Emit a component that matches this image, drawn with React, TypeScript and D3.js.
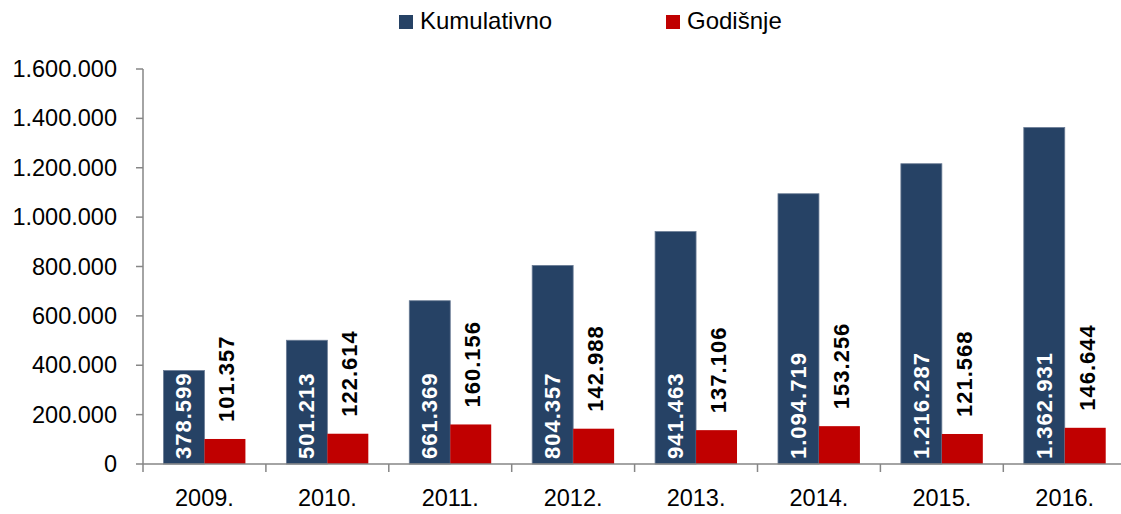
import React from "react";
import * as d3 from "d3";

const width = 1121;
const height = 514;
const margin = { top: 69, left: 143, bottom: 50 };
const step = 122.9;

const years = ["2009.", "2010.", "2011.", "2012.", "2013.", "2014.", "2015.", "2016."];
const kumulativno = [378599, 501213, 661369, 804357, 941463, 1094719, 1216287, 1362931];
const godisnje = [101357, 122614, 160156, 142988, 137106, 153256, 121568, 146644];
const series = ["Kumulativno", "Godišnje"];
const colors = ["#264265", "#C00000"];
const yTicks = [0, 200000, 400000, 600000, 800000, 1000000, 1200000, 1400000, 1600000];

const locale = d3.formatLocale({ decimal: ",", thousands: ".", grouping: [3], currency: ["", ""] });
const fmt = locale.format(",");

const font = "'Liberation Sans', Arial, sans-serif";
const axisColor = "#868686";

export default function App() {
  const y0 = height - margin.bottom; // 464
  const yScale = d3.scaleLinear().domain([0, 1600000]).range([y0, margin.top]);
  const xScale = d3.scaleBand()
    .domain(years)
    .range([margin.left, margin.left + step * years.length])
    .padding(0);
  // bars take 2/3 of each band (gap width 50%)
  const inner = d3.scaleBand()
    .domain(series)
    .range([step / 6, step - step / 6])
    .padding(0);

  const bw = inner.bandwidth();

  return (
    <div>
      <style>{`body{margin:0}`}</style>
      <svg width={width} height={height} style={{ display: "block" }} fontFamily={font}>
        <rect width={width} height={height} fill="#fff" />

        {/* legend */}
        {series.map((s, i) => {
          const lx = i === 0 ? 399 : 666;
          return (
            <g key={s}>
              <rect x={lx} y={15} width={14} height={14} fill={colors[i]} />
              <text x={lx + 21} y={29} fontSize={24} fill="#000">{s}</text>
            </g>
          );
        })}

        {/* y axis */}
        <line x1={margin.left} x2={margin.left} y1={margin.top} y2={y0} stroke={axisColor} strokeWidth={1.5} />
        {yTicks.map(t => (
          <g key={t}>
            <line x1={margin.left - 7} x2={margin.left} y1={yScale(t)} y2={yScale(t)} stroke={axisColor} strokeWidth={1.5} />
            <text x={117} y={yScale(t)} textAnchor="end" dominantBaseline="central" fontSize={23.5} fill="#000">
              {fmt(t)}
            </text>
          </g>
        ))}

        {/* bars */}
        {years.map((yr, i) => {
          const bx = xScale(yr)!;
          const kx = bx + inner("Kumulativno")!;
          const gx = bx + inner("Godišnje")!;
          const ky = yScale(kumulativno[i]);
          const gy = yScale(godisnje[i]);
          return (
            <g key={yr}>
              <rect x={kx} y={ky} width={bw} height={y0 - ky} fill={colors[0]} stroke="#6a7c95" strokeWidth={0.8} />
              <rect x={gx} y={gy} width={bw} height={y0 - gy} fill={colors[1]} />
              <text
                transform={`translate(${kx + bw / 2},${y0 - 5}) rotate(-90)`}
                textAnchor="start" dominantBaseline="central"
                fontSize={22} fontWeight="bold" fill="#fff" letterSpacing={1}
              >
                {fmt(kumulativno[i])}
              </text>
              <text
                transform={`translate(${gx + bw / 2 + 2},${gy - 17}) rotate(-90)`}
                textAnchor="start" dominantBaseline="central"
                fontSize={22} fontWeight="bold" fill="#000" letterSpacing={1}
              >
                {fmt(godisnje[i])}
              </text>
            </g>
          );
        })}

        {/* x axis */}
        <line x1={margin.left} x2={margin.left + step * years.length} y1={y0} y2={y0} stroke={axisColor} strokeWidth={1.5} />
        {d3.range(years.length + 1).map(i => (
          <line key={i} x1={margin.left + i * step} x2={margin.left + i * step} y1={y0} y2={y0 + 8} stroke={axisColor} strokeWidth={1.5} />
        ))}
        {years.map(yr => (
          <text key={yr} x={xScale(yr)! + step / 2} y={506} textAnchor="middle" fontSize={23.5} fill="#000">
            {yr}
          </text>
        ))}
      </svg>
    </div>
  );
}
